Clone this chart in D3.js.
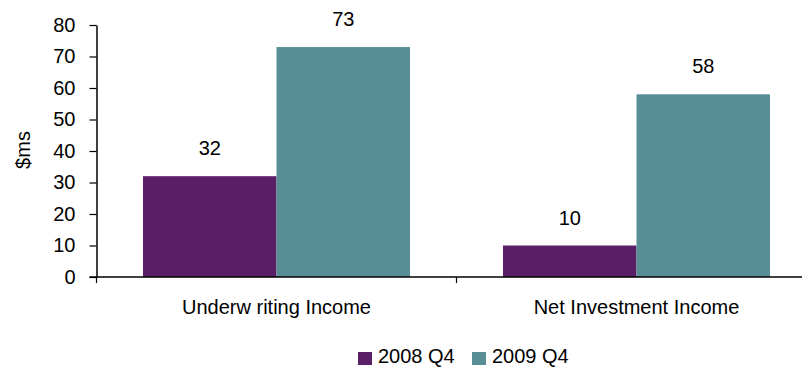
<!DOCTYPE html>
<html>
<head>
<meta charset="utf-8">
<script src="https://cdn.jsdelivr.net/npm/d3@7"></script>
<style>
  html, body { margin: 0; padding: 0; background: #fff; }
  svg { display: block; font-family: "Liberation Sans", Arial, sans-serif; }
</style>
</head>
<body>
<svg id="chart" width="802" height="367"></svg>
<script>
// Income components, fourth quarter comparison ($ millions)
const categories = ["Underw riting Income", "Net Investment Income"];
const seriesNames = ["2008 Q4", "2009 Q4"];
const values2008Q4 = [32, 10];
const values2009Q4 = [73, 58];
const yTicks = [0, 10, 20, 30, 40, 50, 60, 70, 80];
const colors = ["#5B1F68", "#588F97"];

const series = [values2008Q4, values2009Q4];
const fontSize = 20;

const svg = d3.select("#chart");
const plotLeft = 96.5, plotRight = 816.5, plotTop = 25, plotBottom = 277;

const x = d3.scaleBand().domain(categories).range([plotLeft, plotRight]).paddingInner(0).paddingOuter(0);
const y = d3.scaleLinear().domain([0, 80]).range([plotBottom, plotTop]);
const groupPad = 46.5;
const xs = d3.scaleBand().domain(seriesNames).range([groupPad, x.bandwidth() - groupPad]).padding(0);

// bars and value labels
seriesNames.forEach((name, si) => {
  const rows = categories.map((c, i) => ({ c, v: series[si][i] }));
  svg.append("g").selectAll("rect")
    .data(rows)
    .join("rect")
    .attr("x", d => x(d.c) + xs(name))
    .attr("y", d => y(d.v))
    .attr("width", xs.bandwidth())
    .attr("height", d => y(0) - y(d.v))
    .attr("fill", colors[si]);

  svg.append("g").selectAll("text")
    .data(rows)
    .join("text")
    .attr("x", d => x(d.c) + xs(name) + xs.bandwidth() / 2)
    .attr("y", d => y(d.v) - 21)
    .attr("text-anchor", "middle")
    .attr("font-size", fontSize)
    .attr("fill", "#000")
    .text(d => d.v);
});

// y axis
const yAxis = svg.append("g")
  .attr("transform", `translate(${plotLeft},0)`)
  .call(d3.axisLeft(y).tickValues(yTicks).tickSize(7).tickPadding(14).tickSizeOuter(0));
yAxis.select(".domain").attr("stroke", "#000").attr("stroke-width", 1.5);
yAxis.selectAll(".tick line").attr("stroke", "#000").attr("stroke-width", 1.2);
yAxis.selectAll(".tick text").attr("font-size", fontSize).attr("fill", "#000")
  .attr("font-family", "Liberation Sans, Arial, sans-serif");

// x axis with category boundary ticks
const xAxisG = svg.append("g").attr("transform", `translate(0,${plotBottom})`);
xAxisG.append("line").attr("x1", plotLeft - 7).attr("x2", plotRight).attr("y1", 0).attr("y2", 0)
  .attr("stroke", "#000").attr("stroke-width", 1.5);
const bounds = categories.map(c => x(c)).concat([x(categories[categories.length - 1]) + x.bandwidth()]);
xAxisG.selectAll("line.b").data(bounds).join("line").attr("class", "b")
  .attr("x1", d => d).attr("x2", d => d).attr("y1", 0).attr("y2", 6)
  .attr("stroke", "#000").attr("stroke-width", 1.2);
xAxisG.selectAll("text").data(categories).join("text")
  .attr("x", d => x(d) + x.bandwidth() / 2)
  .attr("y", 37)
  .attr("text-anchor", "middle")
  .attr("font-size", fontSize)
  .attr("fill", "#000")
  .text(d => d);

// y axis title
svg.append("text")
  .attr("transform", "translate(30,150) rotate(-90)")
  .attr("text-anchor", "middle")
  .attr("font-size", fontSize)
  .attr("fill", "#000")
  .text("$ms");

// legend
const legendX = [358, 472];
const legend = svg.append("g");
seriesNames.forEach((name, i) => {
  legend.append("rect").attr("x", legendX[i]).attr("y", 352).attr("width", 14).attr("height", 13)
    .attr("fill", colors[i]);
  legend.append("text").attr("x", legendX[i] + 20).attr("y", 363)
    .attr("font-size", fontSize).attr("fill", "#000").text(name);
});
</script>
</body>
</html>
